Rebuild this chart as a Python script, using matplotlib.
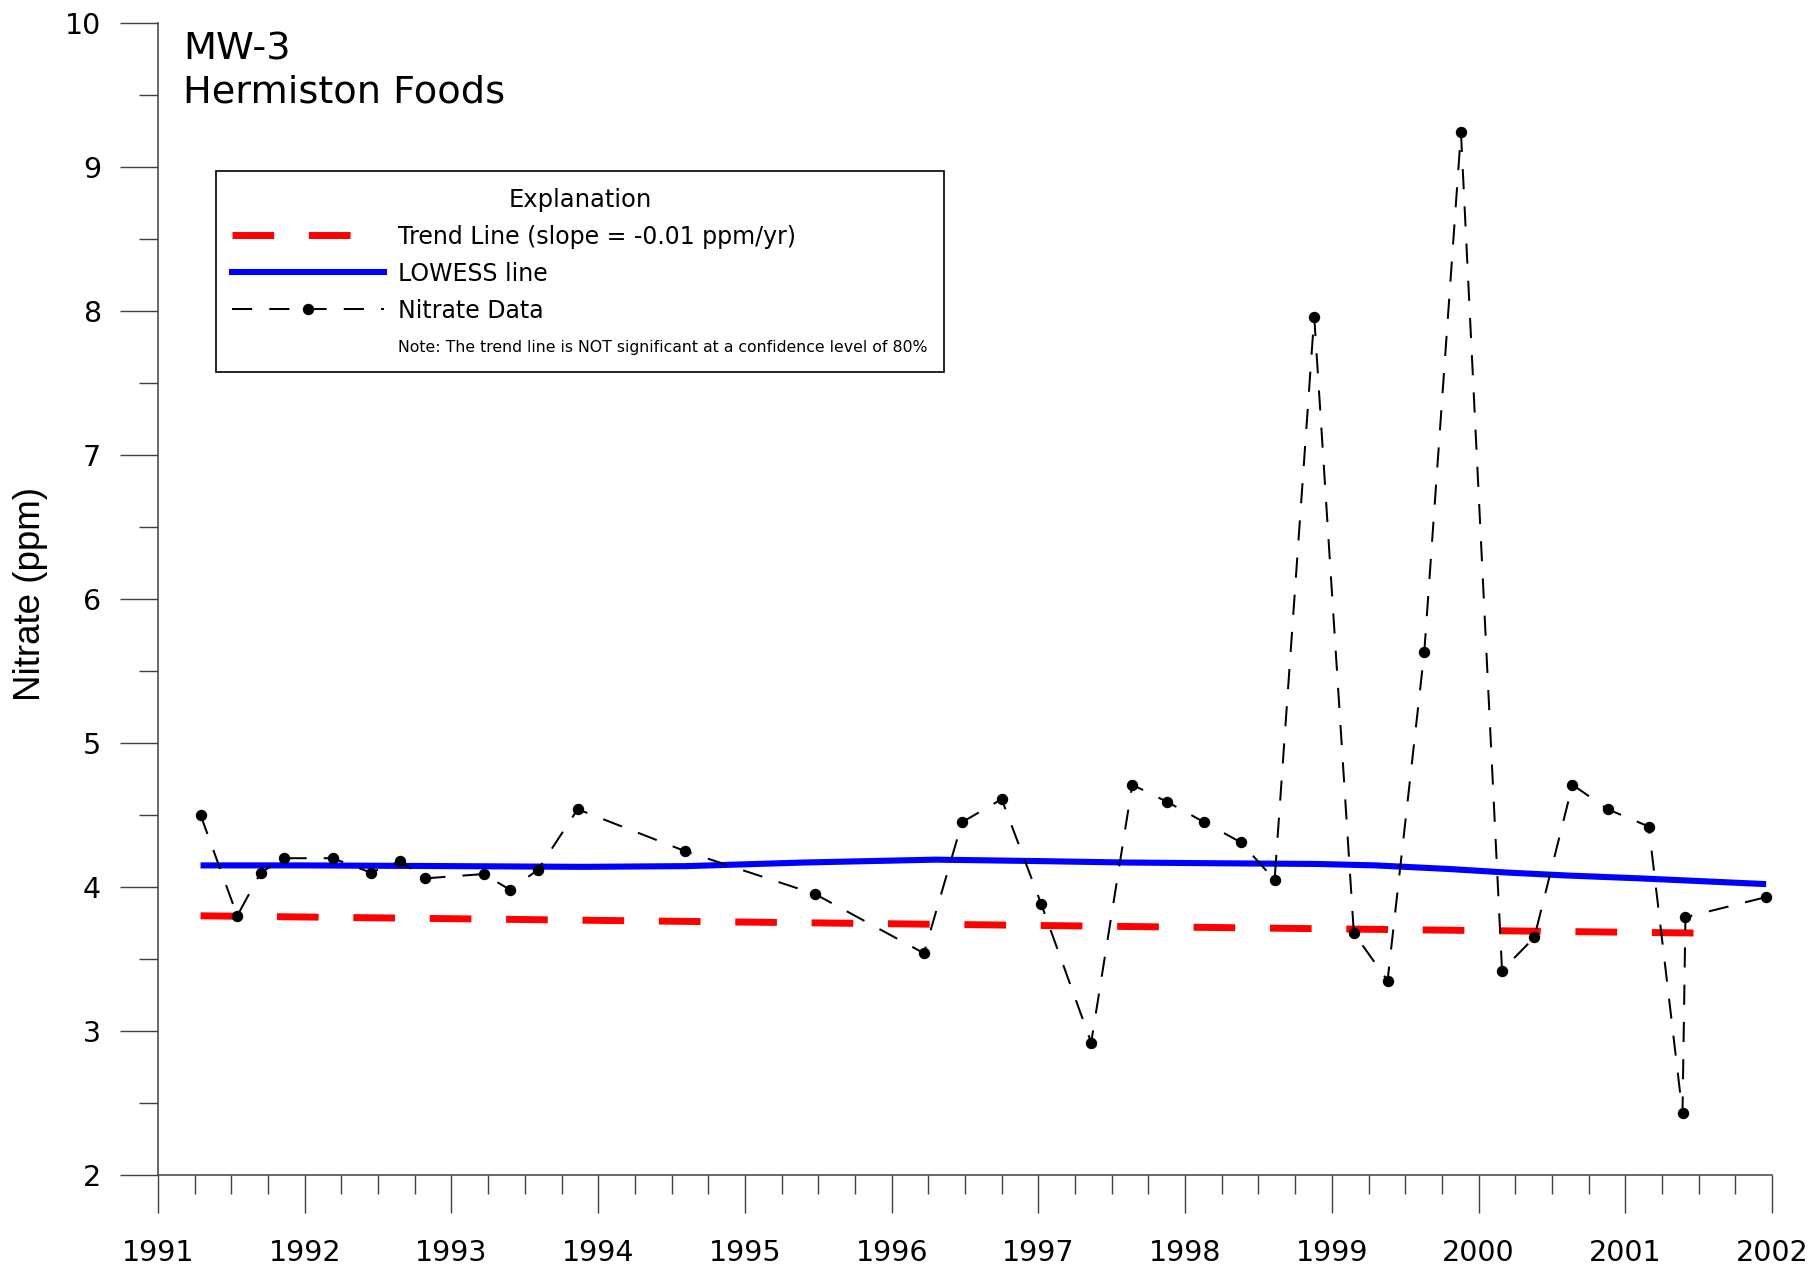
import matplotlib
matplotlib.use("Agg")
import matplotlib.pyplot as plt
from matplotlib.lines import Line2D
from matplotlib.ticker import MultipleLocator

# nitrate samples (decimal year, ppm)
sample_year = [1991.29, 1991.54, 1991.70, 1991.86, 1992.19, 1992.45, 1992.65, 1992.82,
               1993.22, 1993.40, 1993.59, 1993.86, 1994.59, 1995.48, 1996.22, 1996.48,
               1996.75, 1997.02, 1997.36, 1997.64, 1997.88, 1998.13, 1998.38, 1998.61,
               1998.88, 1999.15, 1999.38, 1999.63, 1999.88, 2000.16, 2000.38, 2000.64,
               2000.88, 2001.16, 2001.39, 2001.41, 2001.96]
nitrate = [4.50, 3.80, 4.10, 4.20, 4.20, 4.10, 4.18, 4.06,
           4.09, 3.98, 4.12, 4.54, 4.25, 3.95, 3.54, 4.45,
           4.61, 3.88, 2.92, 4.71, 4.59, 4.45, 4.31, 4.05,
           7.96, 3.68, 3.35, 5.63, 9.24, 3.42, 3.65, 4.71,
           4.54, 4.42, 2.43, 3.79, 3.93]

# LOWESS smooth
lowess_year = [1991.29, 1992.0, 1993.0, 1993.9, 1994.6, 1995.4, 1996.3, 1997.0, 1997.6,
               1998.2, 1998.9, 1999.3, 1999.8, 2000.2, 2000.6, 2001.1, 2001.96]
lowess_val = [4.15, 4.15, 4.145, 4.14, 4.145, 4.17, 4.19, 4.18, 4.17,
              4.165, 4.16, 4.15, 4.125, 4.10, 4.08, 4.06, 4.02]

# Sen slope trend line end points
trend_year = [1991.29, 2001.50]
trend_val = [3.80, 3.68]

year_ticks = list(range(1991, 2003))
ppm_ticks = list(range(2, 11))

label_trend = 'Trend Line (slope = -0.01 ppm/yr)'
label_lowess = 'LOWESS line'
label_data = 'Nitrate Data'
note = 'Note: The trend line is NOT significant at a confidence level of 80%'

fig = plt.figure(figsize=(18.13, 12.68), dpi=100)
ax = fig.add_axes([0.08715, 0.07334, 0.89024, 0.90852])

ax.plot(lowess_year, lowess_val, color='#0000ff', lw=4.4, solid_capstyle='butt')
ax.plot(trend_year, trend_val, color='#ff0000', lw=5, dashes=(6, 5))
ax.plot(sample_year, nitrate, color='black', lw=1.45, dashes=(10, 8.5),
        marker='o', markersize=7.2, markerfacecolor='black', markeredgecolor='black')

ax.set_xlim(1991, 2002)
ax.set_ylim(2, 10)
ax.set_xticks(year_ticks)
ax.set_yticks(ppm_ticks)
ax.xaxis.set_minor_locator(MultipleLocator(0.25))
ax.yaxis.set_minor_locator(MultipleLocator(0.5))

for side in ['top', 'right']:
    ax.spines[side].set_visible(False)
for side in ['left', 'bottom']:
    ax.spines[side].set_color('#404040')
    ax.spines[side].set_linewidth(1.1)

ax.tick_params(which='major', direction='out', length=27.4, width=1.0, color='#404040',
               labelsize=20.5)
ax.tick_params(which='minor', direction='out', length=13.7, width=1.0, color='#404040')
ax.tick_params(axis='x', which='major', pad=18.5)
ax.tick_params(axis='y', which='major', pad=13.5)

ax.set_ylabel('Nitrate (ppm)', fontsize=26.5, family=['Liberation Sans', 'DejaVu Sans'])
ax.yaxis.set_label_coords(-0.068, 0.504)

ax.text(0.0155, 0.993, 'MW-3\nHermiston Foods', transform=ax.transAxes,
        ha='left', va='top', fontsize=27.5, linespacing=1.25)

handles = [
    Line2D([], [], color='#ff0000', lw=5, dashes=(6, 5)),
    Line2D([], [], color='#0000ff', lw=4.4),
    Line2D([], [], color='black', lw=1.45, dashes=(10, 8.5), marker='o', markersize=7.2),
    Line2D([], [], color='none'),
]
leg = ax.legend(handles, [label_trend, label_lowess, label_data, note],
                loc='upper left', bbox_to_anchor=(0.0359, 0.8715), borderaxespad=0,
                title='Explanation', prop={'size': 17}, title_fontsize=17.5,
                frameon=True, fancybox=False, framealpha=1, edgecolor='black',
                handlelength=6.4, handletextpad=0.6, borderpad=0.7, labelspacing=0.55,
                numpoints=1)
leg.get_frame().set_linewidth(1.2)
leg.get_texts()[3].set_fontsize(11.3)

fig.savefig('out.png', dpi=100)
